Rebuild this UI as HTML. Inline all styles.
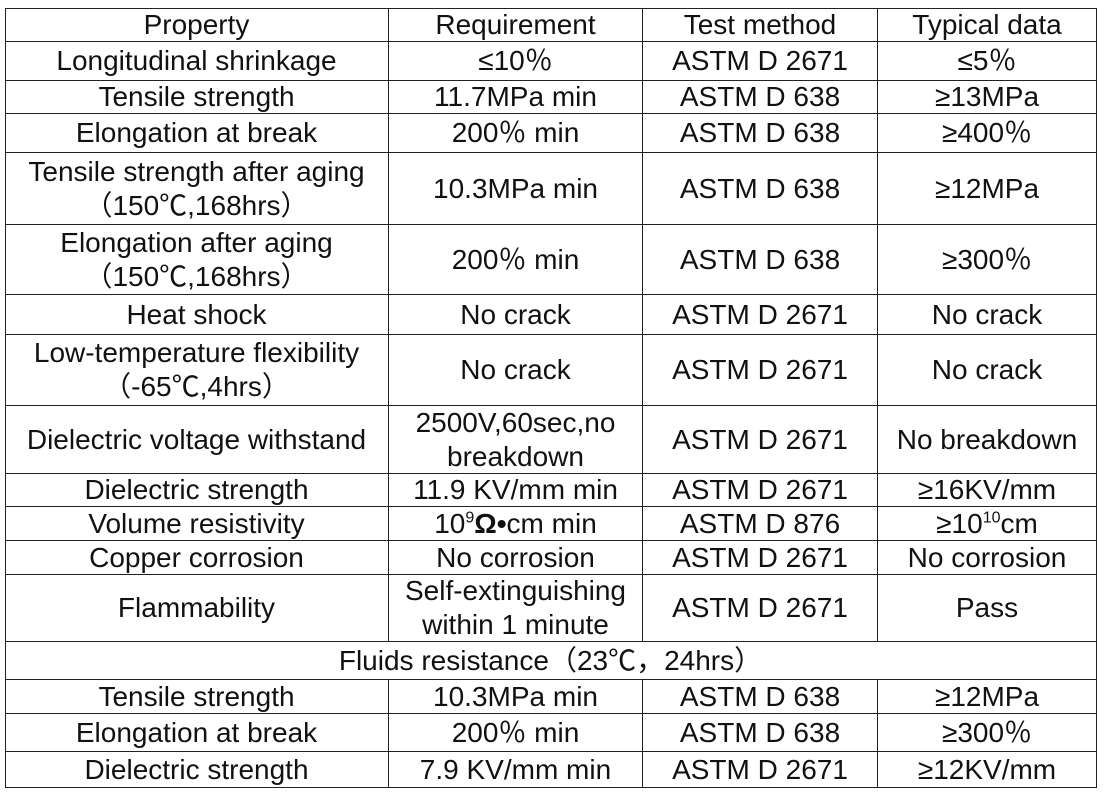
<!DOCTYPE html>
<html><head><meta charset="utf-8"><style>
body{margin:0;background:#fff;width:1103px;height:794px;overflow:hidden;position:relative;font-family:"Liberation Sans","Noto Sans CJK SC",sans-serif;color:#111}
.c{position:absolute;display:flex;align-items:center;justify-content:center;text-align:center;font-size:28px;line-height:34px;box-sizing:border-box;border-right:1.5px solid #222;border-bottom:1.5px solid #222;white-space:nowrap}
sup{font-size:16px;line-height:0;vertical-align:super}
</style></head><body>
<div id="t"></div>
<script>
var X=[5,389,643,878,1097];
var Y=[8,42,81,114,153,225,295,335,406,474,507,541,575,642,680,714,752,788];
var rows=[
["Property","Requirement","Test method","Typical data"],
["Longitudinal shrinkage","≤10％","ASTM D 2671","≤5％"],
["Tensile strength","11.7MPa min","ASTM D 638","≥13MPa"],
["Elongation at break","200％ min","ASTM D 638","≥400％"],
["Tensile strength after aging<br>（150℃,168hrs）","10.3MPa min","ASTM D 638","≥12MPa"],
["Elongation after aging<br>（150℃,168hrs）","200％ min","ASTM D 638","≥300％"],
["Heat shock","No crack","ASTM D 2671","No crack"],
["Low-temperature flexibility<br>（-65℃,4hrs）","No crack","ASTM D 2671","No crack"],
["Dielectric voltage withstand","2500V,60sec,no<br>breakdown","ASTM D 2671","No breakdown"],
["Dielectric strength","11.9 KV/mm min","ASTM D 2671","≥16KV/mm"],
["Volume resistivity","10<sup>9</sup><b>Ω•</b>cm min","ASTM D 876","≥10<sup>10</sup>cm"],
["Copper corrosion","No corrosion","ASTM D 2671","No corrosion"],
["Flammability","Self-extinguishing<br>within 1 minute","ASTM D 2671","Pass"],
["Fluids resistance（23℃，24hrs）"],
["Tensile strength","10.3MPa min","ASTM D 638","≥12MPa"],
["Elongation at break","200％ min","ASTM D 638","≥300％"],
["Dielectric strength","7.9 KV/mm min","ASTM D 2671","≥12KV/mm"]];
var h='<div style="position:absolute;left:5px;top:8px;width:1092px;height:780px;border-left:1.5px solid #222;border-top:1.5px solid #222;box-sizing:border-box"></div>';
rows.forEach(function(r,i){
 if(r.length==1){h+='<div class="c" style="left:5px;top:'+Y[i]+'px;width:'+(X[4]-5)+'px;height:'+(Y[i+1]-Y[i])+'px"><span>'+r[0]+'</span></div>';return;}
 r.forEach(function(t,j){h+='<div class="c" style="left:'+X[j]+'px;top:'+Y[i]+'px;width:'+(X[j+1]-X[j])+'px;height:'+(Y[i+1]-Y[i])+'px"><span>'+t+'</span></div>';});
});
document.getElementById('t').innerHTML=h;
</script>
</body></html>
